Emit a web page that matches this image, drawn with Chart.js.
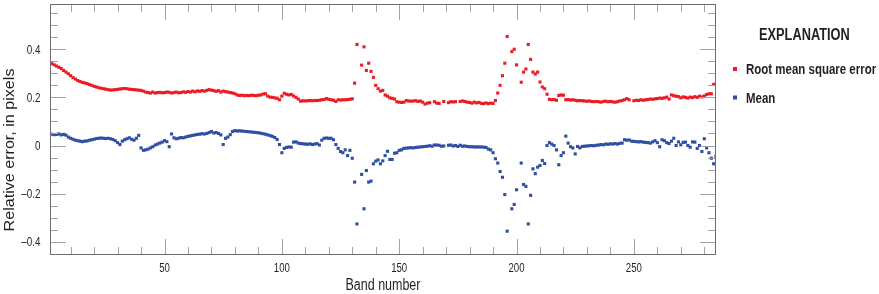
<!DOCTYPE html>
<html><head><meta charset="utf-8">
<script src="https://cdn.jsdelivr.net/npm/chart.js@4.4.1/dist/chart.umd.min.js"></script>
<style>html,body{margin:0;padding:0;background:#fff}#wrap{width:879px;height:294px}</style>
</head><body><div id="wrap"><canvas id="c" width="879" height="294"></canvas></div>
<script>
const firstBand = 1;
const rmse = [
0.345,0.340,0.335,0.330,0.325,0.320,0.312,0.305,0.298,0.290,
0.282,0.276,0.270,0.266,0.262,0.260,0.257,0.253,0.250,0.246,
0.243,0.240,0.238,0.236,0.234,0.232,0.230,0.231,0.232,0.233,
0.235,0.236,0.237,0.236,0.234,0.233,0.232,0.231,0.230,0.229,
0.226,0.222,0.220,0.218,0.222,0.218,0.220,0.221,0.219,0.220,
0.222,0.221,0.218,0.220,0.222,0.219,0.220,0.223,0.221,0.224,
0.222,0.226,0.223,0.227,0.225,0.228,0.226,0.229,0.232,0.230,
0.228,0.225,0.228,0.222,0.226,0.224,0.222,0.220,0.218,0.215,
0.210,0.208,0.209,0.207,0.208,0.207,0.209,0.208,0.207,0.209,
0.210,0.214,0.215,0.205,0.201,0.200,0.198,0.196,0.190,0.205,
0.217,0.213,0.210,0.212,0.206,0.200,0.193,0.184,0.186,0.185,
0.186,0.187,0.186,0.187,0.187,0.188,0.190,0.191,0.195,0.192,
0.190,0.188,0.183,0.190,0.189,0.190,0.190,0.191,0.192,0.194,
0.259,0.420,null,0.334,0.410,0.312,0.342,0.308,0.283,0.250,
0.236,0.226,0.229,0.210,0.205,0.198,0.196,0.193,0.182,0.180,
0.179,0.180,0.187,0.185,0.184,0.185,0.186,0.183,0.185,0.180,
0.172,0.176,0.178,null,0.182,0.176,0.175,null,0.183,null,
0.178,0.182,0.181,0.182,null,0.183,0.185,0.183,0.180,0.179,
0.176,0.180,0.177,0.179,0.175,0.174,0.177,0.174,0.176,0.175,
0.187,0.218,0.250,0.290,0.342,0.453,null,0.390,0.400,0.335,
null,0.263,0.305,0.318,0.420,0.358,0.305,0.297,0.305,0.264,
0.243,0.236,0.213,0.192,0.190,0.191,0.188,0.208,0.210,0.209,
0.190,0.191,0.189,0.190,0.188,0.186,0.187,0.186,0.185,0.184,
0.185,0.183,0.182,0.183,0.182,0.180,0.183,0.184,0.182,0.183,
0.181,0.180,0.182,0.185,0.187,0.190,0.195,0.190,null,0.186,
0.188,0.187,0.190,0.188,0.190,0.191,0.193,0.192,0.194,0.195,
0.197,0.196,0.198,0.201,0.193,0.210,0.207,0.205,0.203,0.198,
0.202,0.200,0.197,0.201,0.199,0.203,0.200,0.205,0.202,0.206,
0.212,0.215,0.215,0.254,null
];
const meanErr = [
0.046,0.047,0.045,0.046,0.048,0.044,0.046,0.043,0.035,0.030,
0.026,0.022,0.020,0.018,0.016,0.018,0.019,0.022,0.024,0.026,
0.029,0.030,0.031,0.030,0.029,0.030,0.028,0.025,0.020,0.012,
0.004,0.018,0.024,0.028,0.032,0.026,0.022,0.030,0.042,-0.010,
-0.020,-0.018,-0.015,-0.010,-0.005,0.002,0.006,0.010,0.014,0.020,
0.016,-0.005,0.048,0.032,0.028,0.030,0.033,0.032,0.035,0.038,
0.040,0.042,0.044,0.046,0.047,0.049,0.048,0.050,0.054,0.058,
0.052,0.054,0.050,0.044,0.004,0.030,0.035,0.045,0.058,0.062,
0.060,0.061,0.060,0.059,0.058,0.057,0.056,0.055,0.054,0.053,
0.051,0.049,0.047,0.044,0.041,0.038,0.033,0.025,0.004,-0.030,
-0.012,-0.008,-0.006,-0.007,0.014,0.015,0.010,0.008,0.007,0.006,
0.005,0.007,0.004,0.006,0.008,0.002,0.022,0.030,0.031,0.030,
0.030,0.024,0.004,-0.012,-0.025,-0.030,-0.018,-0.042,-0.020,-0.053,
-0.152,-0.326,null,-0.120,-0.263,-0.104,-0.152,-0.148,-0.076,-0.065,
-0.060,-0.076,-0.064,-0.042,-0.024,-0.058,-0.058,-0.032,-0.030,-0.020,
-0.018,-0.012,-0.011,-0.010,-0.009,-0.010,-0.008,-0.007,-0.006,-0.005,
-0.004,-0.003,-0.001,-0.003,0.002,0.002,0.001,-0.003,-0.002,null,
0.001,0.002,-0.002,0.000,-0.004,0.001,-0.003,-0.002,-0.004,-0.005,
-0.005,-0.006,-0.006,-0.006,-0.006,-0.007,-0.008,-0.015,-0.018,-0.030,
-0.055,-0.073,-0.108,-0.132,-0.204,-0.356,null,-0.263,-0.245,-0.184,
null,-0.073,-0.162,-0.170,-0.326,-0.207,-0.097,-0.117,-0.090,-0.083,
-0.062,-0.075,0.000,0.012,0.006,0.000,-0.018,-0.080,-0.042,-0.030,
0.039,0.010,-0.005,-0.010,-0.035,-0.004,-0.010,-0.004,-0.003,-0.002,
-0.001,0.000,-0.001,0.001,0.002,0.004,0.003,0.006,0.005,0.007,
0.006,0.008,0.006,0.009,0.010,0.024,0.022,0.023,0.018,0.017,
0.016,0.015,0.016,0.014,0.013,0.012,0.010,0.015,0.020,0.012,
-0.005,0.024,0.020,0.012,0.008,0.018,0.030,0.000,0.015,0.003,
0.013,0.014,0.000,-0.007,0.015,0.014,-0.012,0.000,-0.025,0.028,
-0.010,-0.030,-0.053,-0.076,-0.045
];
const xTickValues = [50, 100, 150, 200, 250];
const xTickLabels = ['50', '100', '150', '200', '250'];
const yTickValues = [-0.4, -0.2, 0, 0.2, 0.4];
const yTickLabels = ['\u20130.4', '\u20130.2', '0', '0.2', '0.4'];
const seriesNames = ['Root mean square error', 'Mean'];
const legendTitle = 'EXPLANATION';
const xTitle = 'Band number';
const yTitle = 'Relative error, in pixels';

const bands = rmse.map((_, i) => firstBand + i);
const FONT = '"Liberation Sans", Arial, sans-serif';
const RED = '#ec1c24';
const BLUE = '#2f4fa4';
const TEXT = '#231f20';

// draw text with a horizontal squeeze (narrow face look)
function drawText(ctx, str, x, y, size, bold, sx, align) {
  ctx.save();
  ctx.font = (bold ? 'bold ' : '') + size + 'px ' + FONT;
  ctx.textBaseline = 'alphabetic';
  ctx.textAlign = 'left';
  const w = ctx.measureText(str).width * sx;
  let x0 = x;
  if (align === 'center') x0 = x - w / 2;
  else if (align === 'right') x0 = x - w;
  ctx.translate(x0, y);
  ctx.scale(sx, 1);
  ctx.fillText(str, 0, 0);
  ctx.restore();
}

const framePlugin = {
  id: 'frame',
  afterDatasetsDraw(chart) {
    const { ctx, chartArea: a, scales: { x, y } } = chart;
    ctx.save();
    ctx.strokeStyle = '#a3a3a3';
    ctx.lineWidth = 1;
    const seg = (x1, y1, x2, y2) => { ctx.beginPath(); ctx.moveTo(x1, y1); ctx.lineTo(x2, y2); ctx.stroke(); };
    for (let v = 10; v < x.max; v += 10) {
      const px = Math.round(x.getPixelForValue(v)) + 0.5;
      const len = v % 50 === 0 ? 16 : 8;
      seg(px, a.bottom, px, a.bottom - len);
      seg(px, a.top, px, a.top + len);
    }
    for (let k = -9; k <= 11; k++) {
      const v = k * 0.05;
      if (v < y.min || v > y.max) continue;
      const py = Math.round(y.getPixelForValue(v)) + 0.5;
      const len = k % 4 === 0 ? 16 : 8;
      seg(a.left, py, a.left + len, py);
      seg(a.right, py, a.right - len, py);
    }
    ctx.strokeStyle = '#6d6d6d';
    ctx.strokeRect(a.left + 0.5, a.top + 0.5, a.width - 1, a.height - 1);
    ctx.restore();
  },
  afterDraw(chart) {
    const { ctx, chartArea: a, scales: { x, y } } = chart;
    ctx.save();
    ctx.fillStyle = TEXT;
    // tick labels, placed through the scales
    xTickValues.forEach((v, i) => drawText(ctx, xTickLabels[i], x.getPixelForValue(v), a.bottom + 16.5, 12, false, 0.8, 'center'));
    yTickValues.forEach((v, i) => drawText(ctx, yTickLabels[i], 40.5, y.getPixelForValue(v) + 4.3, 12, false, 0.82, 'right'));
    // axis titles
    drawText(ctx, xTitle, (a.left + a.right) / 2, 290, 16, false, 0.78, 'center');
    ctx.save();
    ctx.translate(13.5, 150);
    ctx.rotate(-Math.PI / 2);
    drawText(ctx, yTitle, 0, 0, 14, false, 1.15, 'center');
    ctx.restore();
    // legend
    drawText(ctx, legendTitle, 759, 40, 16, true, 0.8, 'left');
    const rows = [69, 97.5];
    chart.data.datasets.forEach((ds, i) => {
      ctx.fillStyle = ds.backgroundColor;
      ctx.fillRect(733, rows[i] - 2, 4, 4);
      ctx.fillStyle = TEXT;
      drawText(ctx, ds.label, 746, rows[i] + 5, 14, true, 0.82, 'left');
    });
    ctx.restore();
  }
};

new Chart(document.getElementById('c'), {
  type: 'scatter',
  data: {
    datasets: [
      { label: seriesNames[0], data: bands.map((b, i) => ({ x: b, y: rmse[i] })), backgroundColor: RED, borderColor: RED,
        pointStyle: 'rect', pointRadius: 2.2, pointBorderWidth: 0 },
      { label: seriesNames[1], data: bands.map((b, i) => ({ x: b, y: meanErr[i] })), backgroundColor: BLUE, borderColor: BLUE,
        pointStyle: 'rect', pointRadius: 2.2, pointBorderWidth: 0 }
    ]
  },
  options: {
    responsive: false,
    animation: false,
    layout: { padding: { left: 0, top: 4, right: 163, bottom: 0 } },
    plugins: { legend: { display: false }, tooltip: { enabled: false } },
    scales: {
      x: {
        type: 'linear', min: 1.2, max: 285,
        grid: { display: false, drawTicks: false }, border: { display: false },
        afterFit(s) { s.height = 39; },
        afterBuildTicks(s) { s.ticks = xTickValues.map(v => ({ value: v })); },
        ticks: { display: false }
      },
      y: {
        type: 'linear', min: -0.455, max: 0.588,
        grid: { display: false, drawTicks: false }, border: { display: false },
        afterFit(s) { s.width = 50; },
        afterBuildTicks(s) { s.ticks = yTickValues.map(v => ({ value: v })); },
        ticks: { display: false }
      }
    }
  },
  plugins: [framePlugin]
});
</script>
</body></html>
